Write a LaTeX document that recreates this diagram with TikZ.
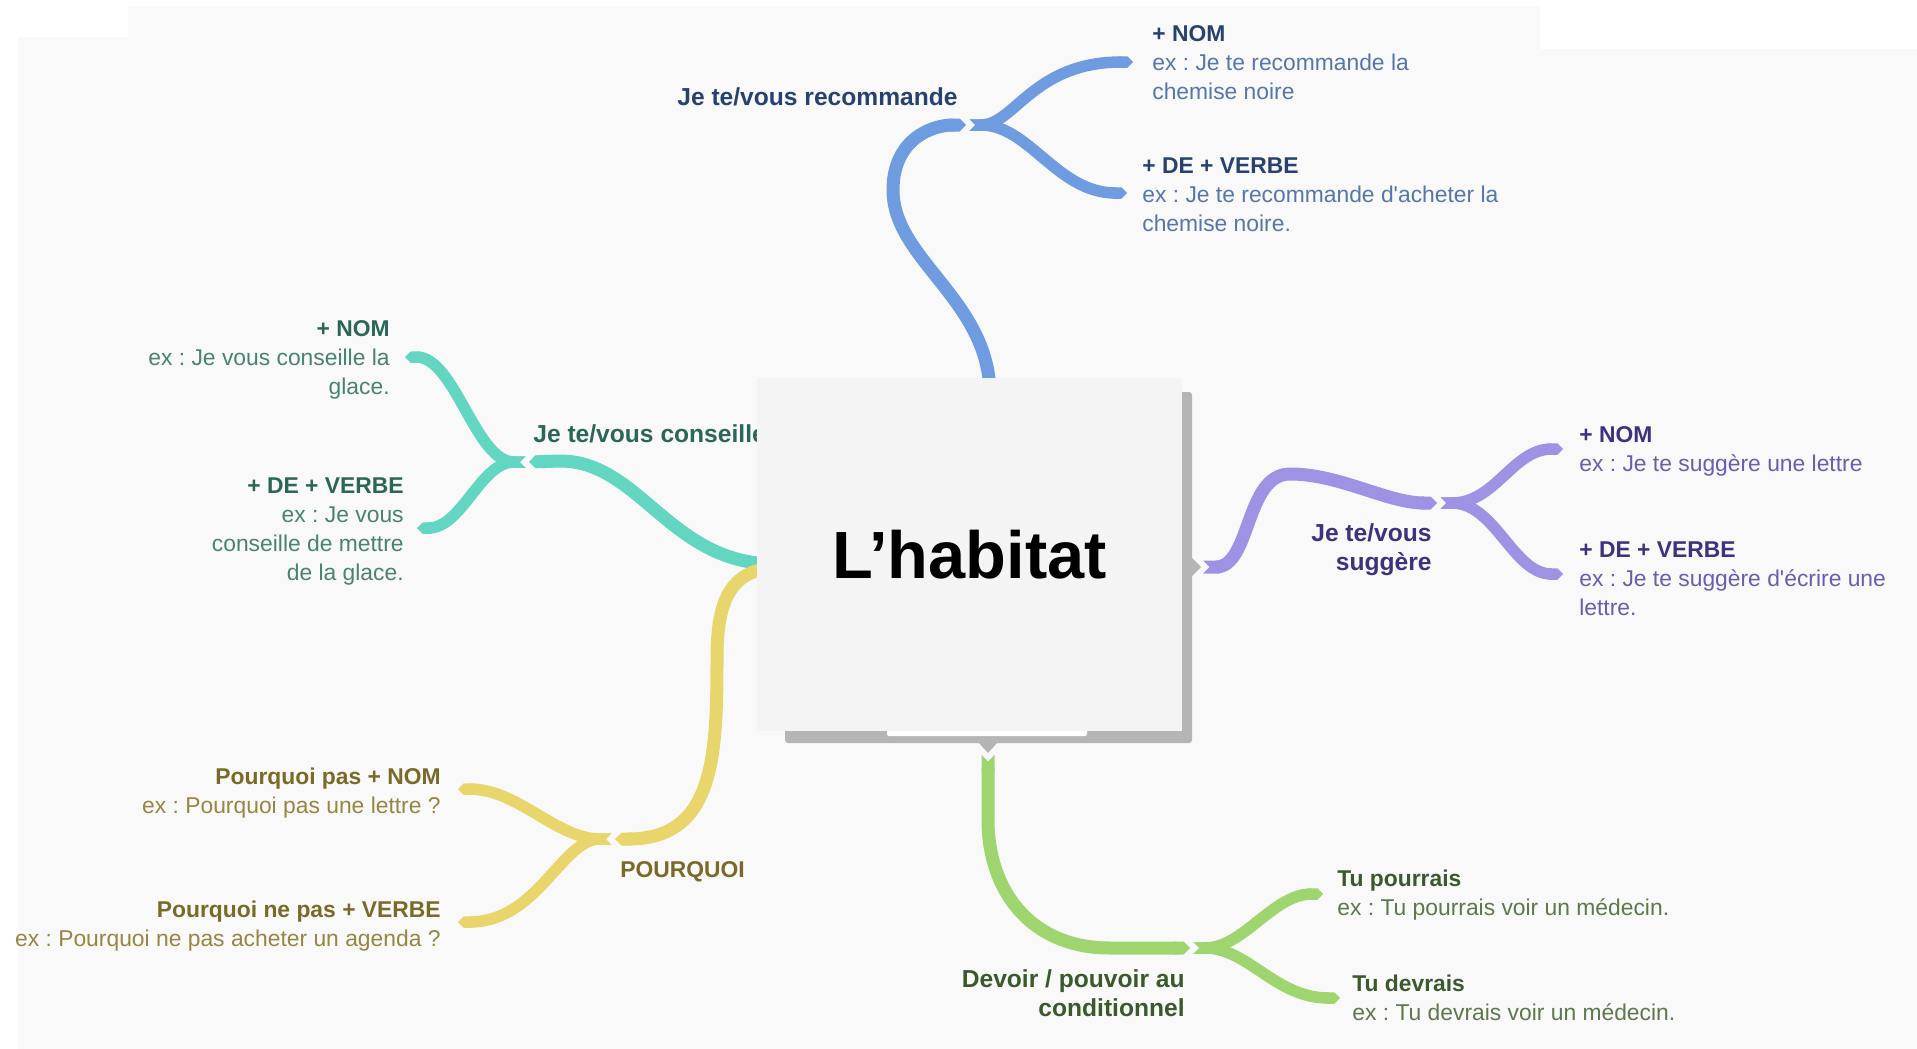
\documentclass[tikz,border=0pt]{standalone}
\usepackage{fontspec}
\setmainfont{Liberation Sans}
\usetikzlibrary{arrows.meta}
\frenchspacing

\definecolor{bgpaper}{RGB}{249,249,249}
\definecolor{boxfill}{RGB}{244,244,244}
\definecolor{boxshadow}{RGB}{181,181,181}
\definecolor{blueline}{RGB}{111,156,224}
\definecolor{bluehead}{RGB}{40,66,112}
\definecolor{bluetext}{RGB}{86,118,170}
\definecolor{tealline}{RGB}{99,214,193}
\definecolor{tealhead}{RGB}{44,102,88}
\definecolor{tealtext}{RGB}{72,130,114}
\definecolor{purpline}{RGB}{157,146,228}
\definecolor{purphead}{RGB}{60,50,125}
\definecolor{purptext}{RGB}{104,94,175}
\definecolor{yellline}{RGB}{232,214,108}
\definecolor{yellhead}{RGB}{122,106,40}
\definecolor{yelltext}{RGB}{150,134,66}
\definecolor{greenline}{RGB}{158,213,110}
\definecolor{greenhead}{RGB}{58,90,44}
\definecolor{greentext}{RGB}{92,120,76}

\newcommand{\leafhead}[2]{{\bfseries\color{#1}#2}}

\tikzset{
  centrebox/.style={
    rectangle, fill=boxfill, inner sep=0pt,
    minimum width=85mm, minimum height=70.6mm,
    font=\bfseries\fontsize{38}{40}\selectfont
  },
  mainline/.style={line width=2.6mm, -{Triangle Cap}},
  notchline/.style={line width=2.6mm, {Triangle Cap[reversed]}-{Triangle Cap}},
  subline/.style={line width=2.3mm, {Triangle Cap[reversed]}-{Triangle Cap}},
  topic/.style={inner sep=0pt, font=\bfseries\fontsize{14}{16.8}\selectfont},
  leaf/.style={inner sep=0pt, font=\fontsize{13}{16.5}\selectfont}
}

\begin{document}
\begin{tikzpicture}[x=0.2mm, y=-0.2mm]
\useasboundingbox (0,0) rectangle (1917,1049);

% Paper
\fill[white] (0,0) rectangle (1917,1049);
\fill[bgpaper] (18,37) -- (128,37) -- (128,6) -- (1540,6) -- (1540,49)
  -- (1917,49) -- (1917,1049) -- (18,1049) -- cycle;

% Roots on the card
\coordinate (rRecom) at (990,395);
\coordinate (rConseil) at (775,564);
\coordinate (rSuggere) at (1203,567);
\coordinate (rPourquoi) at (775,568);
\coordinate (rDevoir) at (988,755);

% Junctions
\coordinate (jRecom) at (966,125);
\coordinate (jConseil) at (529,462);
\coordinate (jSuggere) at (1437,503);
\coordinate (jPourquoi) at (615,839);
\coordinate (jDevoir) at (1190,948);

% Tips
\coordinate (tRecomNom) at (1133,62);
\coordinate (tRecomVerbe) at (1127,193);
\coordinate (tConseilNom) at (405,357);
\coordinate (tConseilVerbe) at (417,528);
\coordinate (tSuggereNom) at (1563,449);
\coordinate (tSuggereVerbe) at (1563,574);
\coordinate (tPourquoiNom) at (458,789);
\coordinate (tPourquoiVerbe) at (458,922);
\coordinate (tDevoirPou) at (1323,894);
\coordinate (tDevoirDev) at (1340,998);

% Je te/vous recommande
\draw[mainline, blueline] (rRecom) .. controls +(0,-95) and +(0,70) .. (893,190)
  .. controls +(0,-50) and +(-35,0) .. (jRecom);
\draw[subline, blueline] ([xshift=0.7mm]jRecom) .. controls +(45,0) and +(-100,0) .. (tRecomNom);
\draw[subline, blueline] ([xshift=0.7mm]jRecom) .. controls +(60,0) and +(-70,0) .. (tRecomVerbe);
\node[topic, text=bluehead, anchor=base east] (recom) at (958,105) {Je te/vous recommande};
\node[leaf, text=bluetext, anchor=north west, align=left] (recomNom) at (1152,25)
  {\leafhead{bluehead}{+ NOM}\\ex : Je te recommande la\\chemise noire};
\node[leaf, text=bluetext, anchor=north west, align=left] (recomVerbe) at (1142,157)
  {\leafhead{bluehead}{+ DE + VERBE}\\ex : Je te recommande d\textquotesingle acheter la\\chemise noire.};

% Je te/vous conseille
\draw[mainline, tealline] (rConseil) .. controls +(-105,0) and +(80,0) .. (560,461) -- (jConseil);
\draw[subline, tealline] ([xshift=-0.7mm]jConseil) .. controls +(-50,0) and +(50,0) .. (tConseilNom);
\draw[subline, tealline] ([xshift=-0.7mm]jConseil) .. controls +(-45,0) and +(45,0) .. (tConseilVerbe);
\node[topic, text=tealhead, anchor=base west] (conseil) at (533,442) {Je te/vous conseille};
\node[leaf, text=tealtext, anchor=north east, align=right] (conseilNom) at (390,320)
  {\leafhead{tealhead}{+ NOM}\\ex : Je vous conseille la\\glace.};
\node[leaf, text=tealtext, anchor=north east, align=right] (conseilVerbe) at (404,477)
  {\leafhead{tealhead}{+ DE + VERBE}\\ex : Je vous\\conseille de mettre\\de la glace.};

% Je te/vous suggere
\draw[notchline, purpline] (rSuggere) .. controls +(48,0) and +(-45,0) .. (1290,474)
  .. controls +(50,0) and +(-50,0) .. (jSuggere);
\draw[subline, purpline] ([xshift=0.7mm]jSuggere) .. controls +(55,0) and +(-50,0) .. (tSuggereNom);
\draw[subline, purpline] ([xshift=0.7mm]jSuggere) .. controls +(55,0) and +(-50,0) .. (tSuggereVerbe);
\node[topic, text=purphead, anchor=north east, align=right] (suggere) at (1432,523)
  {Je te/vous\\suggère};
\node[leaf, text=purptext, anchor=north west, align=left] (suggereNom) at (1579,426)
  {\leafhead{purphead}{+ NOM}\\ex : Je te suggère une lettre};
\node[leaf, text=purptext, anchor=north west, align=left] (suggereVerbe) at (1579,541)
  {\leafhead{purphead}{+ DE + VERBE}\\ex : Je te suggère d\textquotesingle écrire une\\lettre.};

% Pourquoi
\draw[mainline, yellline] (rPourquoi) .. controls +(-50,2) and +(0,-50) .. (717,660)
  .. controls +(0,100) and +(98,0) .. (jPourquoi);
\draw[subline, yellline] ([xshift=-0.7mm]jPourquoi) .. controls +(-55,0) and +(60,0) .. (tPourquoiNom);
\draw[subline, yellline] ([xshift=-0.7mm]jPourquoi) .. controls +(-50,0) and +(80,0) .. (tPourquoiVerbe);
\node[topic, text=yellhead, anchor=base west, font=\bfseries\fontsize{13}{16}\selectfont] (pourquoi) at (620,877) {POURQUOI};
\node[leaf, text=yelltext, anchor=north east, align=right] (pourquoiNom) at (441,768)
  {\leafhead{yellhead}{Pourquoi pas + NOM}\\ex : Pourquoi pas une lettre ?};
\node[leaf, text=yelltext, anchor=north east, align=right] (pourquoiVerbe) at (441,901)
  {\leafhead{yellhead}{Pourquoi ne pas + VERBE}\\ex : Pourquoi ne pas acheter un agenda ?};

% Devoir / pouvoir
\draw[notchline, greenline] (rDevoir) -- (988,820) .. controls +(0,70) and +(-80,0) .. (1110,948) -- (jDevoir);
\draw[subline, greenline] ([xshift=0.7mm]jDevoir) .. controls +(50,0) and +(-50,0) .. (tDevoirPou);
\draw[subline, greenline] ([xshift=0.7mm]jDevoir) .. controls +(55,0) and +(-65,0) .. (tDevoirDev);
\node[topic, text=greenhead, anchor=north east, align=right] (devoir) at (1185,969)
  {Devoir / pouvoir au\\conditionnel};
\node[leaf, text=greentext, anchor=north west, align=left] (devoirPou) at (1337,870)
  {\leafhead{greenhead}{Tu pourrais}\\ex : Tu pourrais voir un médecin.};
\node[leaf, text=greentext, anchor=north west, align=left] (devoirDev) at (1352,975)
  {\leafhead{greenhead}{Tu devrais}\\ex : Tu devrais voir un médecin.};

% Central card
\fill[boxshadow, rounded corners=0.6mm] (785,392) rectangle (1192,743);
\fill[boxshadow] (1191,557) -- (1201,567) -- (1191,577) -- cycle;
\fill[boxshadow] (978,742) -- (988,753) -- (998,742) -- cycle;
\fill[white, rounded corners=0.4mm] (887,726) rectangle (1087,736);
\node[centrebox] (habitat) at (969.5,554.5) {L’habitat};

\end{tikzpicture}
\end{document}
